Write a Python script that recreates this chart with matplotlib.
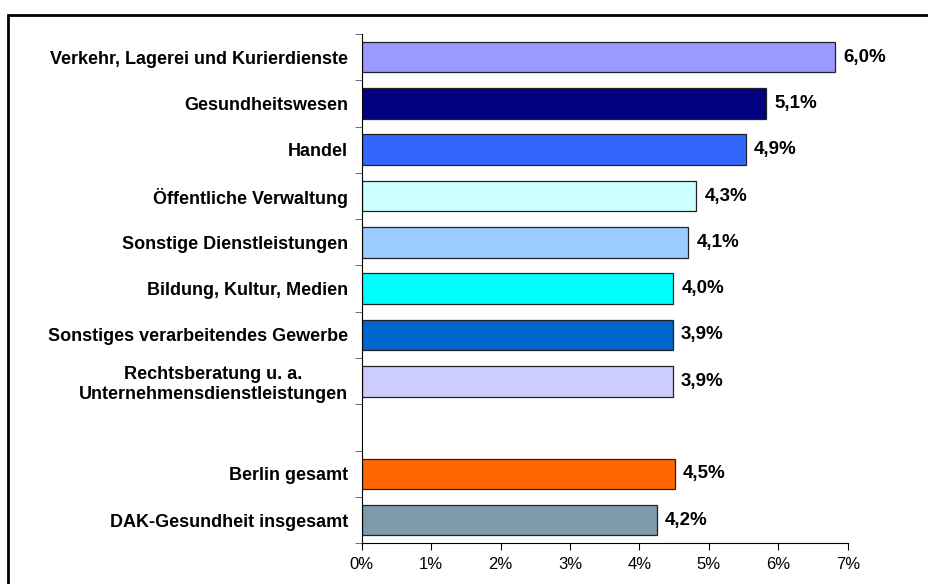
import matplotlib
matplotlib.use('Agg')
import matplotlib.pyplot as plt
from matplotlib.patches import Rectangle

# Daten (Balkenlängen, Beschriftungen wie angegeben)
kategorien = ['Verkehr, Lagerei und Kurierdienste', 'Gesundheitswesen', 'Handel',
              'Öffentliche Verwaltung', 'Sonstige Dienstleistungen', 'Bildung, Kultur, Medien',
              'Sonstiges verarbeitendes Gewerbe',
              'Rechtsberatung u. a.\nUnternehmensdienstleistungen',
              '', 'Berlin gesamt', 'DAK-Gesundheit insgesamt']
werte = [6.82, 5.82, 5.53, 4.82, 4.70, 4.49, 4.48, 4.48, None, 4.51, 4.25]
beschriftungen = ['6,0%', '5,1%', '4,9%', '4,3%', '4,1%', '4,0%', '3,9%', '3,9%', '', '4,5%', '4,2%']
farben = ['#9999FF', '#000080', '#3366FF', '#CCFFFF', '#99CCFF', '#00FFFF', '#0066CC',
          '#CCCCFF', None, '#FF6600', '#7E9AAB']
x_ticks = [0, 1, 2, 3, 4, 5, 6, 7]
x_labels = ['0%', '1%', '2%', '3%', '4%', '5%', '6%', '7%']

plt.rcParams['font.family'] = ['Liberation Sans', 'DejaVu Sans']

fig = plt.figure(figsize=(9.29, 5.84), dpi=100)
ax = fig.add_axes([0.3893, 0.0697, 0.5232, 0.8721])

for i, (w, f, b) in enumerate(zip(werte, farben, beschriftungen)):
    if w is None:
        continue
    ax.barh(i, w, height=0.66, color=f, edgecolor='#222222', linewidth=0.9)
    ax.annotate(b, (w, i), xytext=(6, 0), textcoords='offset points',
                va='center', ha='left', fontsize=13.5, fontweight='bold')

ax.set_ylim(len(kategorien) - 0.5, -0.5)
ax.set_xlim(0, 7)

# Kategorien als Beschriftung, Striche an den Grenzen
ax.set_yticks(range(len(kategorien)))
ax.set_yticklabels(kategorien, fontsize=13, fontweight='bold', multialignment='center')
ax.tick_params(axis='y', which='major', length=0, pad=10)
ax.set_yticks([i - 0.5 for i in range(len(kategorien) + 1)], minor=True)
ax.tick_params(axis='y', which='minor', length=5, color='#555555')

ax.set_xticks(x_ticks)
ax.set_xticklabels(x_labels, fontsize=12)
ax.tick_params(axis='x', length=5, pad=5)

ax.spines['top'].set_visible(False)
ax.spines['right'].set_visible(False)

# Rahmen um die Grafik
fig.patches.append(Rectangle((8 / 929, -0.02), 1.0, 1 - 15 / 584 + 0.02,
                             transform=fig.transFigure, fill=False,
                             edgecolor='black', linewidth=2, clip_on=False))

fig.savefig('out.png', dpi=100)
